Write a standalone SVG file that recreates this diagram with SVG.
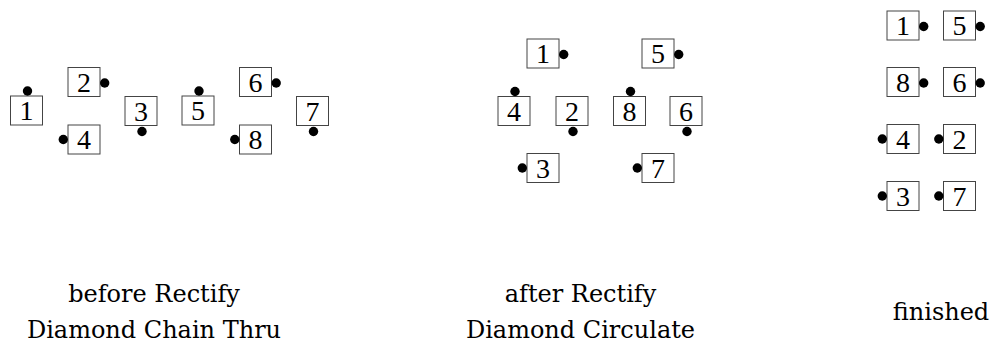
<svg xmlns="http://www.w3.org/2000/svg" width="992" height="354" viewBox="0 0 992 354">
  <style>
    .box { fill: #fff; stroke: #444; stroke-width: 1; }
    .num { font-family: "Liberation Serif", "DejaVu Serif", serif; font-size: 28px; text-anchor: middle; fill: #000; }
    .dot { fill: #000; }
    .cap { font-family: "DejaVu Serif", "Liberation Serif", serif; font-size: 24px; text-anchor: middle; fill: #000; }
  </style>
  <defs>
    <!-- a dancer: box 32x29 centred on the origin with its number -->
    <rect id="b" class="box" x="-16" y="-14.5" width="32" height="29"/>
    <circle id="dT" class="dot" cx="1" cy="-19.5" r="4.7"/>
    <circle id="dR" class="dot" cx="20.7" cy="1" r="4.7"/>
    <circle id="dB" class="dot" cx="1" cy="20.5" r="4.7"/>
    <circle id="dL" class="dot" cx="-20.7" cy="0" r="4.7"/>
  </defs>

  <!-- before Rectify / Diamond Chain Thru -->
  <g id="before">
    <g id="p1-1" transform="translate(26.5,110.5)"><use href="#b"/><use href="#dT"/><text class="num" y="9.5">1</text></g>
    <g id="p1-2" transform="translate(84,82)"><use href="#b"/><use href="#dR"/><text class="num" y="9.5">2</text></g>
    <g id="p1-3" transform="translate(141,111)"><use href="#b"/><use href="#dB"/><text class="num" y="9.5">3</text></g>
    <g id="p1-4" transform="translate(84,139.5)"><use href="#b"/><use href="#dL"/><text class="num" y="9.5">4</text></g>
    <g id="p1-5" transform="translate(198,110.5)"><use href="#b"/><use href="#dT"/><text class="num" y="9.5">5</text></g>
    <g id="p1-6" transform="translate(255.5,82)"><use href="#b"/><use href="#dR"/><text class="num" y="9.5">6</text></g>
    <g id="p1-7" transform="translate(312.5,111)"><use href="#b"/><use href="#dB"/><text class="num" y="9.5">7</text></g>
    <g id="p1-8" transform="translate(255.5,139.5)"><use href="#b"/><use href="#dL"/><text class="num" y="9.5">8</text></g>
    <text class="cap" x="154" y="302">before Rectify</text>
    <text class="cap" x="154" y="338">Diamond Chain Thru</text>
  </g>

  <!-- after Rectify / Diamond Circulate -->
  <g id="after">
    <g id="p2-1" transform="translate(543,53.5)"><use href="#b"/><use href="#dR"/><text class="num" y="9.5">1</text></g>
    <g id="p2-5" transform="translate(658,53.5)"><use href="#b"/><use href="#dR"/><text class="num" y="9.5">5</text></g>
    <g id="p2-4" transform="translate(514,111)"><use href="#b"/><use href="#dT"/><text class="num" y="9.5">4</text></g>
    <g id="p2-2" transform="translate(572,111)"><use href="#b"/><use href="#dB"/><text class="num" y="9.5">2</text></g>
    <g id="p2-8" transform="translate(629.5,111)"><use href="#b"/><use href="#dT"/><text class="num" y="9.5">8</text></g>
    <g id="p2-6" transform="translate(686,111)"><use href="#b"/><use href="#dB"/><text class="num" y="9.5">6</text></g>
    <g id="p2-3" transform="translate(543,168)"><use href="#b"/><use href="#dL"/><text class="num" y="9.5">3</text></g>
    <g id="p2-7" transform="translate(658,168)"><use href="#b"/><use href="#dL"/><text class="num" y="9.5">7</text></g>
    <text class="cap" x="580.5" y="302">after Rectify</text>
    <text class="cap" x="580.5" y="338">Diamond Circulate</text>
  </g>

  <!-- finished -->
  <g id="finished">
    <g id="p3-1" transform="translate(903,25.5)"><use href="#b"/><use href="#dR"/><text class="num" y="9.5">1</text></g>
    <g id="p3-5" transform="translate(959.5,25.5)"><use href="#b"/><use href="#dR"/><text class="num" y="9.5">5</text></g>
    <g id="p3-8" transform="translate(903,82)"><use href="#b"/><use href="#dR"/><text class="num" y="9.5">8</text></g>
    <g id="p3-6" transform="translate(959.5,82)"><use href="#b"/><use href="#dR"/><text class="num" y="9.5">6</text></g>
    <g id="p3-4" transform="translate(903,139)"><use href="#b"/><use href="#dL"/><text class="num" y="9.5">4</text></g>
    <g id="p3-2" transform="translate(959.5,139)"><use href="#b"/><use href="#dL"/><text class="num" y="9.5">2</text></g>
    <g id="p3-3" transform="translate(903,196)"><use href="#b"/><use href="#dL"/><text class="num" y="9.5">3</text></g>
    <g id="p3-7" transform="translate(959.5,196)"><use href="#b"/><use href="#dL"/><text class="num" y="9.5">7</text></g>
    <text class="cap" x="941" y="320">finished</text>
  </g>
</svg>
